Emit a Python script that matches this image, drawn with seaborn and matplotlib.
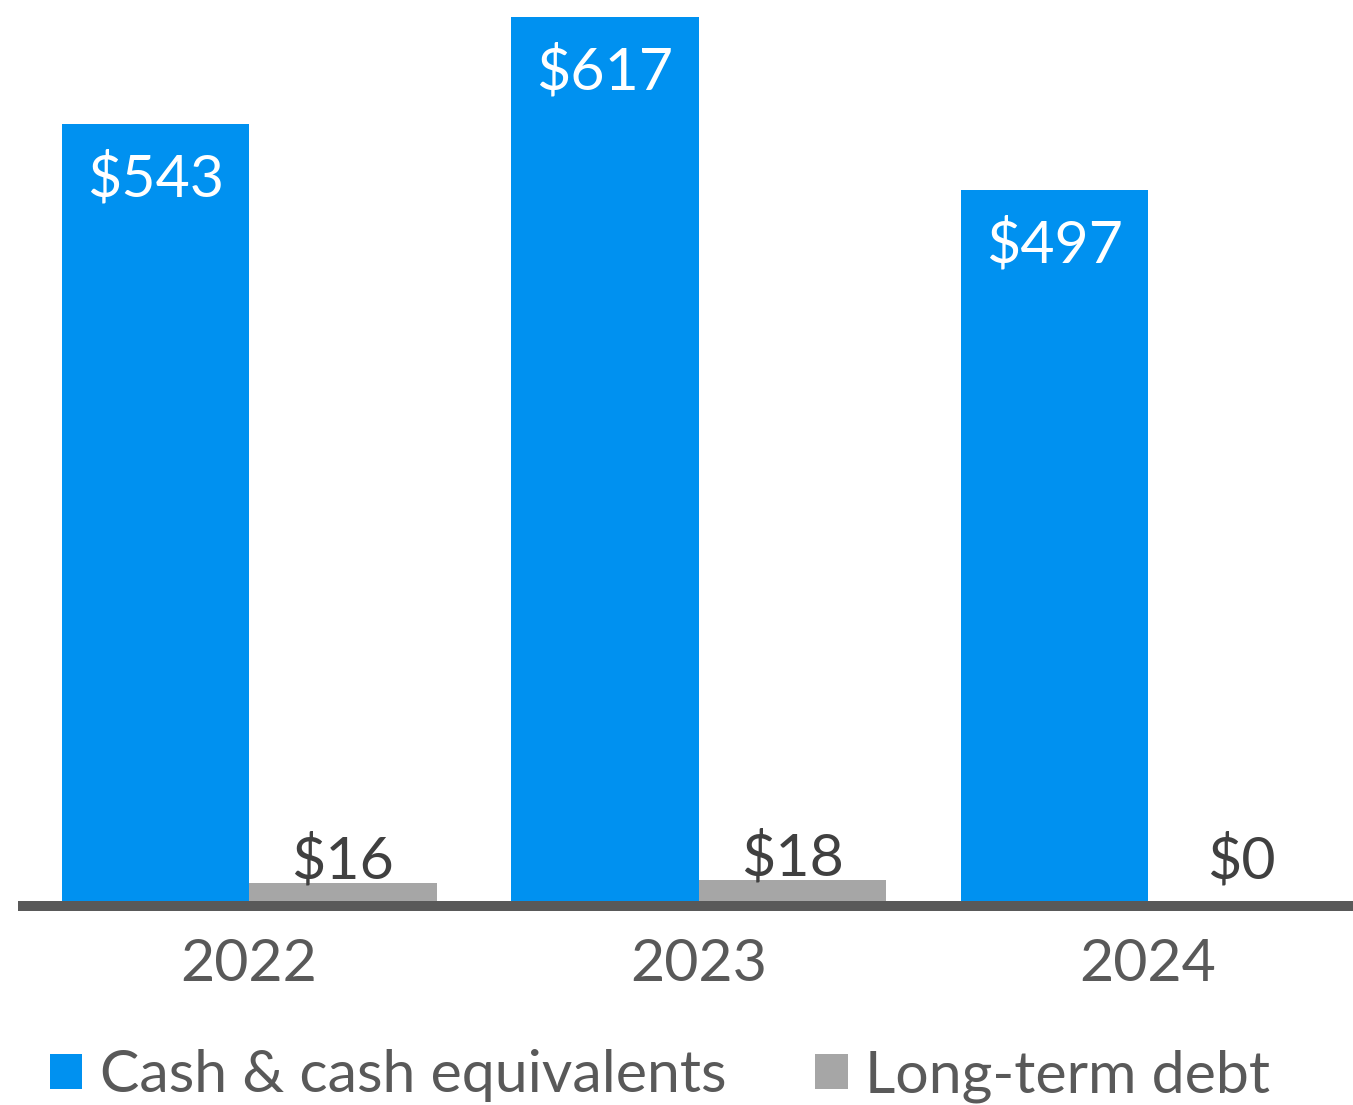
import matplotlib
matplotlib.use("Agg")
import matplotlib.pyplot as plt
import seaborn as sns
import pandas as pd
from matplotlib.patches import Patch

years = ["2022", "2023", "2024"]
cash = [543, 617, 497]
debt = [16, 18, 0]
series_names = ["Cash & cash equivalents", "Long-term debt"]
colors = ["#0091F0", "#A6A6A6"]

df = pd.DataFrame({
    "year": years * 2,
    "value": cash + debt,
    "series": [series_names[0]] * 3 + [series_names[1]] * 3,
})

sns.set_theme(style="white")
plt.rcParams["font.family"] = ["Lato", "DejaVu Sans"]

W, H = 1353, 1105
FS = 42.5
fig = plt.figure(figsize=(W / 100, H / 100), dpi=100)
ax = fig.add_axes([23 / W, (H - 906) / H, (W - 23) / W, 906 / H])

sns.barplot(data=df, x="year", y="value", hue="series", palette=colors,
            width=0.834, ax=ax, legend=False, saturation=1, linewidth=0)

ax.set_xlim(-0.503, 2.456)
ax.set_ylim(0, 629)
ax.set_xlabel("")
ax.set_ylabel("")
ax.set_yticks([])
for s in ["top", "left", "right"]:
    ax.spines[s].set_visible(False)
ax.spines["bottom"].set_color("#595959")
ax.spines["bottom"].set_linewidth(7.2)
ax.tick_params(axis="x", length=0, pad=23, labelsize=FS, labelcolor="#595959")

off = 0.834 / 4
for i, v in enumerate(cash):
    ax.annotate(f"${v}", (i - off, v), xytext=(0, -20), textcoords="offset points",
                ha="center", va="top", fontsize=FS, color="white")
for i, v in enumerate(debt):
    ax.annotate(f"${v}", (i + off, max(v, 16)), xytext=(0, -4), textcoords="offset points",
                ha="center", va="bottom", fontsize=FS, color="#404040")

handles = [Patch(facecolor=c, edgecolor="none") for c in colors]
fig.legend(handles, series_names, loc="center left",
           bbox_to_anchor=(50 / W, 1 - 1076 / H), ncol=2, frameon=False,
           prop={"size": FS}, labelcolor="#595959",
           handlelength=0.55, handleheight=0.55,
           handletextpad=0.3, columnspacing=1.5, borderpad=0, borderaxespad=0)

fig.savefig("out.png", dpi=100)
